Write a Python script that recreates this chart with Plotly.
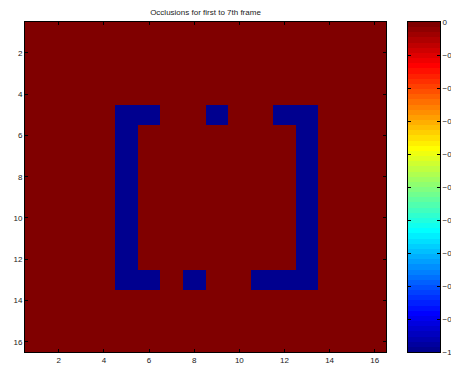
import numpy as np
import plotly.graph_objects as go

# Grid size and occlusion mask (0 = visible, -1 = occluded), rows/cols 1-based
n_rows = 16
n_cols = 16
occluded_rows_5 = [5, 6, 9, 12, 13]
occluded_rows_6_12 = [5, 13]
occluded_row_13 = [5, 6, 8, 11, 12, 13]

x_ticks = [2, 4, 6, 8, 10, 12, 14, 16]
y_ticks = [2, 4, 6, 8, 10, 12, 14, 16]
cbar_ticks = [0, -0.1, -0.2, -0.3, -0.4, -0.5, -0.6, -0.7, -0.8, -0.9, -1]
n_levels = 64

z = np.zeros((n_rows, n_cols))
for c in occluded_rows_5:
    z[5 - 1, c - 1] = -1
for r in range(6, 13):
    for c in occluded_rows_6_12:
        z[r - 1, c - 1] = -1
for c in occluded_row_13:
    z[13 - 1, c - 1] = -1


def jet(m=64):
    # MATLAB-style jet colormap with m discrete levels
    n = int(np.ceil(m / 4))
    u = np.concatenate([np.arange(1, n + 1) / n, np.ones(n - 1), np.arange(n, 0, -1) / n])
    g = int(np.ceil(n / 2)) - (1 if m % 4 == 1 else 0) + np.arange(1, len(u) + 1)
    r = g + n
    b = g - n
    J = np.zeros((m, 3))
    for idx, val in zip(r, u):
        if 1 <= idx <= m:
            J[idx - 1, 0] = val
    for idx, val in zip(g, u):
        if 1 <= idx <= m:
            J[idx - 1, 1] = val
    for idx, val in zip(b, u):
        if 1 <= idx <= m:
            J[idx - 1, 2] = val
    return J


cmap = jet(n_levels)
colorscale = []
for i, (rr, gg, bb) in enumerate(cmap):
    col = f"rgb({int(round(rr*255))},{int(round(gg*255))},{int(round(bb*255))})"
    colorscale.append([i / n_levels, col])
    colorscale.append([(i + 1) / n_levels, col])

font = dict(family="Liberation Sans, Arial, Helvetica, sans-serif", size=8, color="#222")

# Pixel layout of the figure
W, H = 451, 375
ml, mr, mt, mb = 25, 11, 22, 23
pw = W - ml - mr
img_right = 386
cb_left, cb_right = 408, 440

fig = go.Figure()

fig.add_trace(
    go.Heatmap(
        z=z,
        x=list(range(1, n_cols + 1)),
        y=list(range(1, n_rows + 1)),
        zmin=-1,
        zmax=0,
        colorscale=colorscale,
        showscale=False,
        hoverinfo="skip",
        xaxis="x",
        yaxis="y",
    )
)

# Colour bar drawn as its own axis so ticks mirror on both sides
level_centers = [-1 + (i + 0.5) / n_levels for i in range(n_levels)]
fig.add_trace(
    go.Heatmap(
        z=[[v] for v in level_centers],
        x=[0],
        y=level_centers,
        zmin=-1,
        zmax=0,
        colorscale=colorscale,
        showscale=False,
        hoverinfo="skip",
        xaxis="x2",
        yaxis="y2",
    )
)

axis_common = dict(
    showline=True,
    linecolor="black",
    linewidth=1,
    mirror="ticks",
    ticks="inside",
    ticklen=3,
    tickcolor="black",
    showgrid=False,
    zeroline=False,
    tickfont=font,
)

fig.update_layout(
    width=W,
    height=H,
    margin=dict(l=ml, r=mr, t=mt, b=mb),
    paper_bgcolor="white",
    plot_bgcolor="white",
    showlegend=False,
    title=dict(
        text="Occlusions for first to 7th frame",
        x=(ml + img_right) / 2 / W,
        xanchor="center",
        y=1 - 12 / H,
        yanchor="middle",
        font=font,
    ),
    xaxis=dict(
        domain=[0, (img_right - ml) / pw],
        range=[0.5, 16.5],
        tickvals=x_ticks,
        **axis_common,
    ),
    yaxis=dict(
        domain=[0, 1],
        range=[16.5, 0.5],
        tickvals=y_ticks,
        **axis_common,
    ),
    xaxis2=dict(
        domain=[(cb_left - ml) / pw, 1],
        range=[-0.5, 0.5],
        anchor="y2",
        showline=True,
        linecolor="black",
        linewidth=1,
        mirror=True,
        showticklabels=False,
        ticks="",
        showgrid=False,
        zeroline=False,
    ),
    yaxis2=dict(
        domain=[0, 1],
        anchor="x2",
        side="right",
        range=[-1, 0],
        tickvals=cbar_ticks,
        ticktext=[("−" + f"{abs(v):g}") if v < 0 else "0" for v in cbar_ticks],
        automargin=False,
        **axis_common,
    ),
)

fig.write_html("out.html")
